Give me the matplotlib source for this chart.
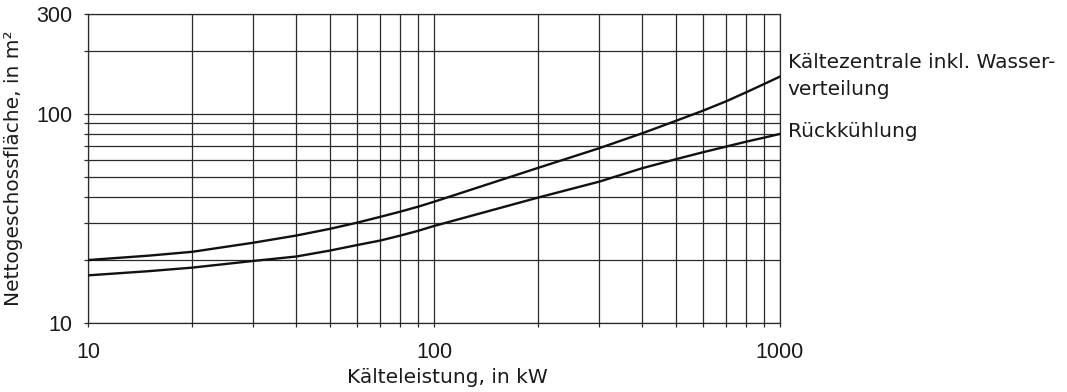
import numpy as np
import matplotlib
matplotlib.use("Agg")
import matplotlib.pyplot as plt

plt.rcParams['font.family'] = ['DejaVu Sans']

# Kälteleistung in kW
leistung = [10, 15, 20, 30, 40, 50, 60, 70, 80, 90, 100, 200, 300, 400, 500, 600, 700, 800, 900, 1000]
# Nettogeschossfläche in m²
zentrale = [20.0, 21.0, 21.9, 24.2, 26.2, 28.2, 30.2, 32.2, 34.1, 36.0, 38.0, 55.2, 68.5, 80.8, 92.6, 103.7, 115.0, 127.0, 139.0, 150.8]
rueckkuehlung = [16.9, 17.7, 18.4, 19.8, 20.8, 22.2, 23.6, 24.8, 26.2, 27.6, 29.1, 39.8, 47.4, 55.0, 60.7, 65.6, 69.8, 73.7, 77.0, 80.2]

x_grid = [10, 20, 30, 40, 50, 60, 70, 80, 90, 100, 200, 300, 400, 500, 600, 700, 800, 900, 1000]
y_grid = [10, 20, 30, 40, 50, 60, 70, 80, 90, 100, 200, 300]
x_labels = [10, 100, 1000]
y_labels = [10, 100, 300]

fig = plt.figure(figsize=(10.67, 3.92), dpi=100)
ax = fig.add_axes([0.0825, 0.176, 0.6485, 0.788])
ax.set_xscale('log')
ax.set_yscale('log')
ax.set_xlim(10, 1000)
ax.set_ylim(10, 300)

gc = '#2a2a2a'
tc = '#1a1a1a'
for v in x_grid:
    ax.axvline(v, color=gc, lw=0.9, zorder=1)
for v in y_grid:
    ax.axhline(v, color=gc, lw=0.9, zorder=1)

ax.plot(leistung, zentrale, color='#111111', lw=1.7, zorder=3)
ax.plot(leistung, rueckkuehlung, color='#111111', lw=1.7, zorder=3)

ax.xaxis.set_minor_locator(matplotlib.ticker.NullLocator())
ax.yaxis.set_minor_locator(matplotlib.ticker.NullLocator())
ax.set_xticks(x_grid)
ax.set_xticklabels([str(v) if v in x_labels else '' for v in x_grid])
ax.set_yticks(y_grid)
ax.set_yticklabels([str(v) if v in y_labels else '' for v in y_grid])
ax.tick_params(axis='both', length=3, width=0.9, color=gc, labelcolor=tc,
               labelsize=15.5, labelfontfamily='Liberation Sans')
ax.tick_params(axis='x', pad=11)
ax.tick_params(axis='y', pad=8)
for s in ax.spines.values():
    s.set_color(gc)
    s.set_linewidth(0.9)

ax.set_xlabel('Kälteleistung, in kW', fontsize=14.5, color=tc, labelpad=3)
ax.xaxis.label.set_x(0.52)
ax.set_ylabel('Nettogeschossfläche, in m²', fontsize=14.5, color=tc, labelpad=10)

# Kurvenbeschriftung rechts neben dem Diagramm
ax.text(1.011, 0.824, 'Kältezentrale inkl. Wasser-', transform=ax.transAxes,
        fontsize=14.5, color=tc, va='baseline', ha='left')
ax.text(1.011, 0.738, 'verteilung', transform=ax.transAxes,
        fontsize=14.5, color=tc, va='baseline', ha='left')
ax.text(1.011, 0.603, 'Rückkühlung', transform=ax.transAxes,
        fontsize=14.5, color=tc, va='baseline', ha='left')

fig.savefig('out.png', dpi=100)
